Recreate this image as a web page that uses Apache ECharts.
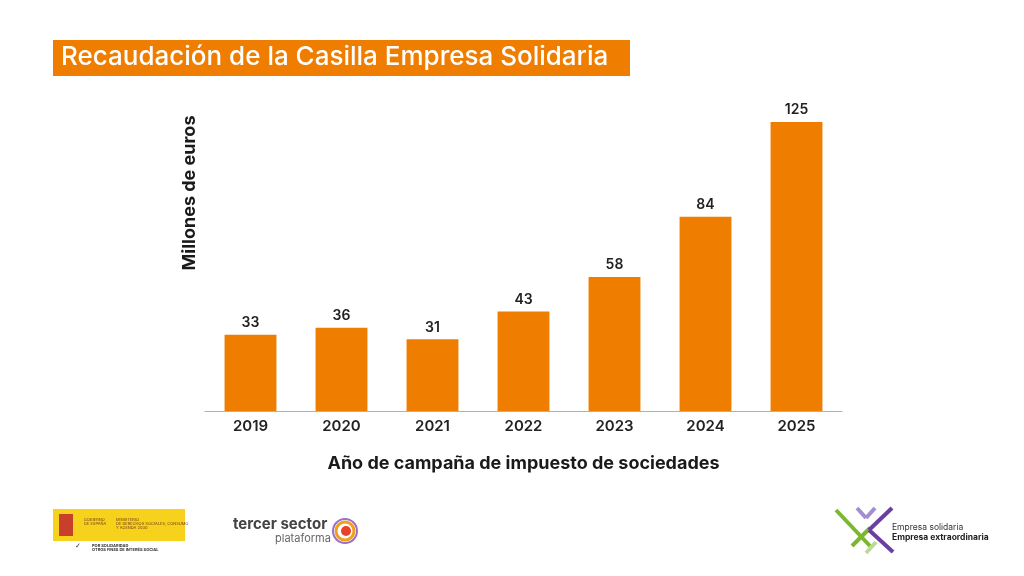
<!DOCTYPE html>
<html>
<head>
<meta charset="utf-8">
<script src="https://cdn.jsdelivr.net/npm/echarts@6/dist/echarts.min.js"></script>
<style>
html, body { margin: 0; padding: 0; background: #fff; }
#chart { width: 1024px; height: 576px; }
</style>
</head>
<body>
<div id="chart"></div>
<script>
var years = ['2019', '2020', '2021', '2022', '2023', '2024', '2025'];
var amounts = [33, 36, 31, 43, 58, 84, 125];

var orange = '#EF7D00';
var font = 'Inter';

var chart = echarts.init(document.getElementById('chart'));

var option = {
	backgroundColor : '#ffffff',
	textStyle : {
		fontFamily : font
	},
	grid : {
		left : 205,
		right : 182,
		top : 122,
		bottom : 165
	},
	xAxis : {
		type : 'category',
		data : years,
		name : 'Año de campaña de impuesto de sociedades',
		nameLocation : 'middle',
		nameGap : 44,
		nameTextStyle : {
			fontSize : 18,
			fontWeight : 'bold',
			color : '#1a1a1a',
			fontFamily : font
		},
		axisLine : {
			lineStyle : { color : '#F2A350', width : 1.2 }
		},
		axisTick : { show : false },
		axisLabel : {
			fontSize : 15,
			fontWeight : 600,
			color : '#222',
			margin : 8,
			fontFamily : font
		}
	},
	yAxis : {
		type : 'value',
		min : 0,
		max : 125,
		show : false
	},
	series : [ {
		type : 'bar',
		data : amounts,
		barWidth : '57%',
		itemStyle : { color : orange },
		label : {
			show : true,
			position : 'top',
			distance : 5,
			fontSize : 14,
			fontWeight : 600,
			color : '#222',
			fontFamily : font
		}
	} ],
	graphic : [
		// title box
		{
			type : 'rect',
			left : 53, top : 40,
			shape : { width : 577, height : 36 },
			style : { fill : orange }
		}, {
			type : 'text',
			left : 61, top : 44,
			style : {
				text : 'Recaudación de la Casilla Empresa Solidaria',
				fill : '#fff',
				fontSize : 26,
				fontWeight : 500,
				fontFamily : font
			}
		},
		// y axis title
		{
			type : 'text',
			x : 190, y : 193,
			rotation : Math.PI / 2,
			style : {
				text : 'Millones de euros',
				fill : '#1a1a1a',
				fontSize : 18,
				fontWeight : 'bold',
				fontFamily : font,
				align : 'center',
				verticalAlign : 'middle'
			}
		},
		// gobierno logo
		{
			type : 'rect',
			left : 53, top : 509,
			shape : { width : 132, height : 32 },
			style : { fill : '#F6D21C' }
		}, {
			type : 'rect',
			left : 59, top : 514,
			shape : { width : 14, height : 22 },
			style : { fill : '#C8402A' }
		}, {
			type : 'text',
			left : 84, top : 518,
			style : { text : 'GOBIERNO\nDE ESPAÑA', fill : '#7a3b1a', fontSize : 4, fontFamily : font }
		}, {
			type : 'text',
			left : 116, top : 518,
			style : { text : 'MINISTERIO\nDE DERECHOS SOCIALES, CONSUMO\nY AGENDA 2030', fill : '#7a3b1a', fontSize : 4, fontFamily : font }
		}, {
			type : 'text',
			left : 75, top : 543,
			style : { text : '✓', fill : '#333', fontSize : 7, fontFamily : 'DejaVu Sans' }
		}, {
			type : 'text',
			left : 92, top : 544,
			style : { text : 'POR SOLIDARIDAD\nOTROS FINES DE INTERÉS SOCIAL', fill : '#333', fontSize : 4, fontWeight : 'bold', fontFamily : font }
		},
		// tercer sector logo
		{
			type : 'text',
			left : 233, top : 517,
			style : { text : 'tercer sector', fill : '#444', fontSize : 15, fontWeight : 'bold', fontFamily : font }
		}, {
			type : 'text',
			left : 275, top : 533,
			style : { text : 'plataforma', fill : '#666', fontSize : 11, fontFamily : font }
		}, {
			type : 'circle',
			shape : { cx : 345, cy : 531, r : 12 },
			style : { fill : 'none', stroke : '#9b6fc6', lineWidth : 2 }
		}, {
			type : 'circle',
			shape : { cx : 345, cy : 531, r : 9 },
			style : { fill : 'none', stroke : '#f0a020', lineWidth : 3 }
		}, {
			type : 'circle',
			shape : { cx : 346, cy : 531, r : 5 },
			style : { fill : '#e8402a' }
		},
		// empresa solidaria logo
		{
			type : 'line',
			shape : { x1 : 836, y1 : 510, x2 : 870, y2 : 546 },
			style : { stroke : '#7CB82F', lineWidth : 4 }
		}, {
			type : 'line',
			shape : { x1 : 852, y1 : 546, x2 : 870, y2 : 528 },
			style : { stroke : '#7CB82F', lineWidth : 4 }
		}, {
			type : 'line',
			shape : { x1 : 857, y1 : 508, x2 : 866, y2 : 518 },
			style : { stroke : '#A28FD0', lineWidth : 4 }
		}, {
			type : 'line',
			shape : { x1 : 875, y1 : 508, x2 : 866, y2 : 518 },
			style : { stroke : '#A28FD0', lineWidth : 4 }
		}, {
			type : 'line',
			shape : { x1 : 892, y1 : 508, x2 : 869, y2 : 530 },
			style : { stroke : '#6A3FA0', lineWidth : 4 }
		}, {
			type : 'line',
			shape : { x1 : 869, y1 : 530, x2 : 893, y2 : 552 },
			style : { stroke : '#6A3FA0', lineWidth : 4 }
		}, {
			type : 'line',
			shape : { x1 : 866, y1 : 553, x2 : 876, y2 : 542 },
			style : { stroke : '#BCD99A', lineWidth : 4 }
		}, {
			type : 'text',
			left : 892, top : 523,
			style : { text : 'Empresa solidaria', fill : '#333', fontSize : 8.5, fontFamily : font }
		}, {
			type : 'text',
			left : 892, top : 533,
			style : { text : 'Empresa extraordinaria', fill : '#222', fontSize : 8.5, fontWeight : 'bold', fontFamily : font }
		}
	]
};
chart.setOption(option);
</script>
</body>
</html>
